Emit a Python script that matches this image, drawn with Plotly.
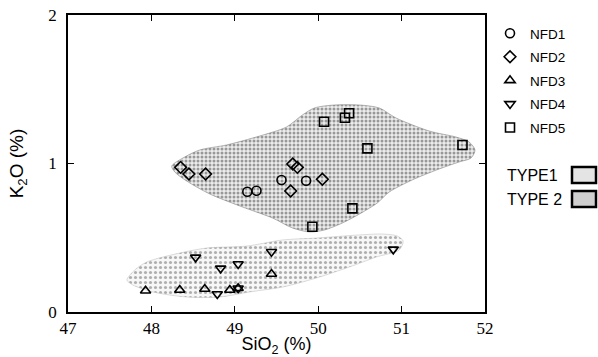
import plotly.graph_objects as go

# ---- data ----
nfd1_x = [49.15, 49.26, 49.56, 49.855]
nfd1_y = [0.81, 0.817, 0.889, 0.884]

nfd2_x = [48.35, 48.45, 48.65, 49.695, 49.75, 50.05, 49.67]
nfd2_y = [0.974, 0.929, 0.929, 0.997, 0.974, 0.894, 0.815]

nfd3_x = [47.93, 48.34, 48.64, 48.94, 49.04, 49.44]
nfd3_y = [0.143, 0.148, 0.155, 0.148, 0.16, 0.256]

nfd4_x = [48.53, 48.83, 49.04, 48.79, 49.04, 49.44, 50.9]
nfd4_y = [0.368, 0.294, 0.323, 0.121, 0.16, 0.406, 0.422]

nfd5_x = [50.07, 50.32, 50.37, 50.59, 50.41, 49.93, 51.73]
nfd5_y = [1.281, 1.308, 1.338, 1.102, 0.698, 0.574, 1.125]

# outlines of the stippled fields
upper_x = [48.244, 48.40, 48.579, 48.902, 49.297, 49.62, 49.811, 49.955, 50.194, 50.493,
           50.732, 50.935, 51.33, 51.653, 51.809, 51.88, 51.833, 51.689, 51.45, 51.127,
           50.852, 50.708, 50.517, 50.289, 50.074, 49.895, 49.691, 49.452, 49.093, 48.699,
           48.423, 48.28, 48.244]
upper_y = [0.983, 1.044, 1.091, 1.125, 1.185, 1.246, 1.327, 1.374, 1.394, 1.394,
           1.374, 1.306, 1.219, 1.178, 1.145, 1.091, 1.037, 1.010, 0.963, 0.889,
           0.808, 0.734, 0.667, 0.599, 0.552, 0.539, 0.566, 0.633, 0.707, 0.795,
           0.882, 0.943, 0.983]

lower_x = [47.706, 47.801, 47.945, 48.34, 48.663, 49.141, 49.572, 49.978, 50.493, 50.768,
           50.947, 51.019, 50.971, 50.696, 50.373, 49.978, 49.572, 49.177, 48.818, 48.423,
           48.017, 47.778, 47.706]
lower_y = [0.215, 0.283, 0.337, 0.397, 0.431, 0.444, 0.485, 0.498, 0.519, 0.525,
           0.512, 0.478, 0.418, 0.370, 0.303, 0.229, 0.168, 0.135, 0.101, 0.101,
           0.135, 0.182, 0.215]

x_ticks = [47, 48, 49, 50, 51, 52]
y_ticks = [0, 1, 2]

fig = go.Figure()

# stippled fields
fig.add_trace(go.Scatter(x=upper_x, y=upper_y, mode="lines", fill="toself",
                         line=dict(color="#888", width=0.6, shape="spline", smoothing=0.8),
                         fillcolor="rgba(0,0,0,0)",
                         fillpattern=dict(shape=".", fgcolor="#444", bgcolor="#ececec",
                                          size=4, solidity=0.45),
                         showlegend=False, hoverinfo="skip"))
fig.add_trace(go.Scatter(x=lower_x, y=lower_y, mode="lines", fill="toself",
                         line=dict(color="#bbb", width=0.5, shape="spline", smoothing=0.8),
                         fillcolor="rgba(0,0,0,0)",
                         fillpattern=dict(shape=".", fgcolor="#666", bgcolor="#f7f7f7",
                                          size=5, solidity=0.3),
                         showlegend=False, hoverinfo="skip"))

series = [
    ("NFD1", nfd1_x, nfd1_y, "circle-open"),
    ("NFD2", nfd2_x, nfd2_y, "diamond-open"),
    ("NFD3", nfd3_x, nfd3_y, "triangle-up-open"),
    ("NFD4", nfd4_x, nfd4_y, "triangle-down-open"),
    ("NFD5", nfd5_x, nfd5_y, "square-open"),
]
for name, xs, ys, sym in series:
    fig.add_trace(go.Scatter(x=xs, y=ys, mode="markers", name=name, legendgroup=name,
                             marker=dict(symbol=sym, size=9, color="black",
                                         line=dict(color="black", width=1.6))))

axis_common = dict(showline=True, linecolor="black", linewidth=1.5, mirror="ticks",
                   ticks="inside", ticklen=6, tickcolor="black", tickwidth=1.2,
                   showgrid=False, zeroline=False, automargin=False,
                   tickfont=dict(family="Liberation Serif", size=17, color="black"))

fig.update_layout(
    width=598, height=357,
    margin=dict(l=68, r=113, t=15, b=45, autoexpand=False),
    paper_bgcolor="white", plot_bgcolor="white",
    xaxis=dict(range=[47, 52], tickvals=x_ticks, ticktext=[str(v) for v in x_ticks],
               title=dict(text="SiO<sub>2</sub> (%)", standoff=0,
                          font=dict(family="Liberation Sans", size=18, color="black")),
               **axis_common),
    yaxis=dict(range=[0, 2], tickvals=y_ticks, ticktext=[str(v) for v in y_ticks],
               ticklabelstandoff=6,
               title=dict(text="K<sub>2</sub>O (%)", standoff=20,
                          font=dict(family="Liberation Sans", size=19, color="black")),
               **axis_common),
    legend=dict(x=1.012, y=0.99, xanchor="left", yanchor="top",
                font=dict(family="Liberation Sans", size=13.5, color="black"),
                tracegroupgap=3, bgcolor="rgba(0,0,0,0)"),
    showlegend=True,
)

# TYPE legend entries (text + stippled boxes)
type_labels = ["TYPE1", "TYPE 2"]
type_y = [175, 199]
box_fill = ["#e4e4e4", "#cfcfcf"]
for lab, yp, fc in zip(type_labels, type_y, box_fill):
    fig.add_annotation(text=lab, xref="paper", yref="paper",
                       x=(505 - 68) / 417, y=(312 - yp) / 297, xanchor="left", yanchor="middle",
                       showarrow=False, font=dict(family="Liberation Sans", size=16, color="black"))
    fig.add_shape(type="rect", xref="paper", yref="paper",
                  x0=(572 - 68) / 417, x1=(596 - 68) / 417,
                  y0=(312 - (yp - 8)) / 297, y1=(312 - (yp + 8)) / 297,
                  line=dict(color="black", width=2.5), fillcolor=fc)

fig.write_html("out.html", config={"displayModeBar": False},
               post_script="document.body.style.margin='0px';document.body.style.overflow='hidden';")
